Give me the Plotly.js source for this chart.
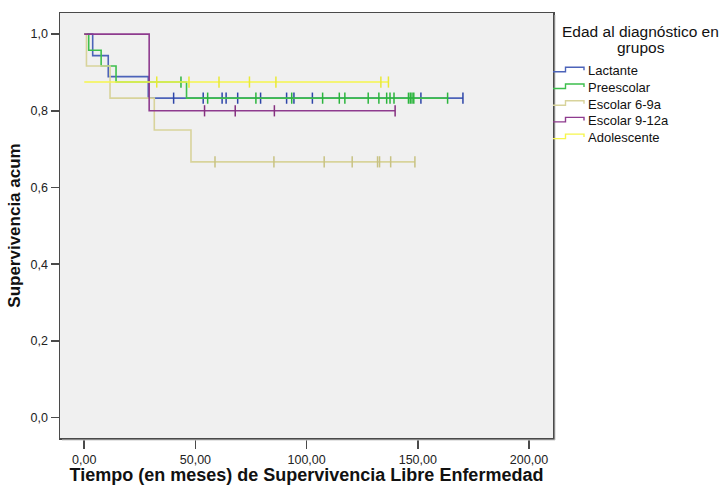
<!DOCTYPE html>
<html>
<head>
<meta charset="utf-8">
<script src="https://cdn.plot.ly/plotly-3.0.1.min.js"></script>
<style>
html,body{margin:0;padding:0;background:#fff;}
#chart{width:722px;height:485px;}
</style>
</head>
<body>
<div id="chart"></div>
<script>
// ---------- Data ----------
const groupNames = ["Lactante", "Preescolar", "Escolar 6-9a", "Escolar 9-12a", "Adolescente"];

// event times (months) and survival after each event
const lactanteEventT = [3.8, 10.8, 28.8];
const lactanteSurv   = [0.944, 0.889, 0.833];
const lactanteCensT  = [40.2, 53.5, 62.0, 63.8, 69.0, 79.3, 91.0, 94.3, 102.6, 151.4, 170.3];

const preescolarEventT = [2.0, 7.6, 14.3, 46.0];
const preescolarSurv   = [0.958, 0.917, 0.875, 0.833];
const preescolarCensT  = [43.5, 55.5, 77.2, 93.3, 107.2, 114.7, 117.2, 127.7, 132.5, 136.0, 137.5, 139.3, 145.8, 146.6, 147.4, 148.2, 163.4];

const escolar69EventT = [1.0, 11.6, 31.5, 48.0];
const escolar69Surv   = [0.917, 0.833, 0.750, 0.667];
const escolar69CensT  = [58.8, 85.3, 107.9, 120.5, 131.9, 132.8, 137.8, 148.7];

const escolar912EventT = [29.2];
const escolar912Surv   = [0.800];
const escolar912CensT  = [54.1, 67.9, 85.5, 139.8];

const adolescenteEventT = [0.0];
const adolescenteSurv   = [0.875];
const adolescenteCensT  = [32.6, 47.1, 60.6, 74.3, 86.2, 133.4, 136.8];

const yTickVals = [0, 0.2, 0.4, 0.6, 0.8, 1.0];
const xTickVals = [0, 50, 100, 150, 200];

// ---------- Styles ----------
const colors = ["#4c63b9", "#3dbf4c", "#d8d39b", "#8e3b8e", "#f6f64c"];
const markColors = ["#2d45a8", "#2bb53d", "#c8c283", "#85307f", "#e9e936"];

const groups = [
  [lactanteEventT, lactanteSurv, lactanteCensT],
  [preescolarEventT, preescolarSurv, preescolarCensT],
  [escolar69EventT, escolar69Surv, escolar69CensT],
  [escolar912EventT, escolar912Surv, escolar912CensT],
  [adolescenteEventT, adolescenteSurv, adolescenteCensT]
];

function survAt(evT, evS, t) {
  let s = 1;
  for (let i = 0; i < evT.length; i++) if (evT[i] <= t) s = evS[i];
  return s;
}

const traces = [];
groups.forEach((g, i) => {
  const [evT, evS, cT] = g;
  const xs = [0], ys = [1];
  evT.forEach((t, k) => {
    if (t === 0) { ys[0] = evS[k]; }
    else { xs.push(t); ys.push(evS[k]); }
  });
  const endT = Math.max(...cT, ...evT);
  xs.push(endT); ys.push(ys[ys.length - 1]);
  traces.push({
    x: xs, y: ys, type: "scatter", mode: "lines",
    line: {shape: "hv", color: colors[i], width: 1.6},
    name: groupNames[i], showlegend: false, hoverinfo: "skip"
  });
  traces.push({
    x: cT, y: cT.map(t => survAt(evT, evS, t)), type: "scatter", mode: "markers",
    marker: {symbol: "line-ns-open", size: 8, color: markColors[i], line: {color: markColors[i], width: 1.5}},
    name: groupNames[i] + " censurado", showlegend: false, hoverinfo: "skip"
  });
});

// ---------- Layout ----------
const L = 60, R = 553, T = 13, B = 438;
const W = 722, H = 485;
function px(x) { return (x - L) / (R - L); }
function py(y) { return (B - y) / (B - T); }

const shapes = [];
const annotations = [];

// frame shadow
shapes.push({type: "line", xref: "paper", yref: "paper", x0: px(R + 2), x1: px(R + 2), y0: py(T + 2), y1: py(B + 2), line: {color: "#c9c9c9", width: 1}});
shapes.push({type: "line", xref: "paper", yref: "paper", x0: px(L + 2), x1: px(R + 2), y0: py(B + 2), y1: py(B + 2), line: {color: "#c9c9c9", width: 1}});

// custom legend
const legTop = 70.8, legStep = 16.7;
groupNames.forEach((n, i) => {
  const c = legTop + i * legStep;
  const path = "M" + px(553) + "," + py(c + 1) + " L" + px(565.5) + "," + py(c + 1) +
               " L" + px(565.5) + "," + py(c - 3.5) + " L" + px(584) + "," + py(c - 3.5) +
               " L" + px(584) + "," + py(c - 0.5);
  shapes.push({type: "path", xref: "paper", yref: "paper", path: path, line: {color: colors[i], width: 1.4}});
  annotations.push({xref: "paper", yref: "paper", x: px(586), y: py(c), xanchor: "left", yanchor: "middle",
    text: n, showarrow: false, font: {family: "Liberation Sans, Arial, sans-serif", size: 13, color: "#111"}});
});
annotations.push({xref: "paper", yref: "paper", x: px(640.5), y: py(32), xanchor: "center", yanchor: "middle",
  text: "Edad al diagnóstico en", showarrow: false, font: {family: "Liberation Sans, Arial, sans-serif", size: 15.5, color: "#111"}});
annotations.push({xref: "paper", yref: "paper", x: px(640.5), y: py(47.5), xanchor: "center", yanchor: "middle",
  text: "grupos", showarrow: false, font: {family: "Liberation Sans, Arial, sans-serif", size: 15.5, color: "#111"}});

const layout = {
  width: W, height: H,
  margin: {l: L, r: W - R, t: T, b: H - B, pad: 0},
  paper_bgcolor: "#ffffff",
  plot_bgcolor: "#f0f0f0",
  separators: ",.",
  showlegend: false,
  font: {family: "Liberation Sans, Arial, sans-serif", size: 12.5, color: "#222"},
  xaxis: {
    range: [-10.9, 210.8], tickvals: xTickVals, tickformat: ".2f",
    showgrid: false, zeroline: false,
    showline: true, linecolor: "#4a4a4a", linewidth: 1.5, mirror: true,
    ticks: "outside", ticklen: 9, tickwidth: 1.5, tickcolor: "#4a4a4a",
    tickfont: {size: 12.5, color: "#222"},
    title: {text: "Tiempo (en meses) de Supervivencia Libre Enfermedad", standoff: 7,
            font: {family: "Liberation Sans, Arial, sans-serif", size: 18, color: "#111", weight: "bold"}}
  },
  yaxis: {
    range: [-0.053, 1.055], tickvals: yTickVals, tickformat: ".1f",
    showgrid: false, zeroline: false,
    showline: true, linecolor: "#4a4a4a", linewidth: 1.5, mirror: true,
    ticks: "outside", ticklen: 8, tickwidth: 1.5, tickcolor: "#4a4a4a",
    tickfont: {size: 12.5, color: "#222"},
    title: {text: "Supervivencia acum", standoff: 5,
            font: {family: "Liberation Sans, Arial, sans-serif", size: 17, color: "#111", weight: "bold"}}
  },
  shapes: shapes,
  annotations: annotations
};

Plotly.newPlot("chart", traces, layout, {displayModeBar: false, staticPlot: true});
</script>
</body>
</html>
